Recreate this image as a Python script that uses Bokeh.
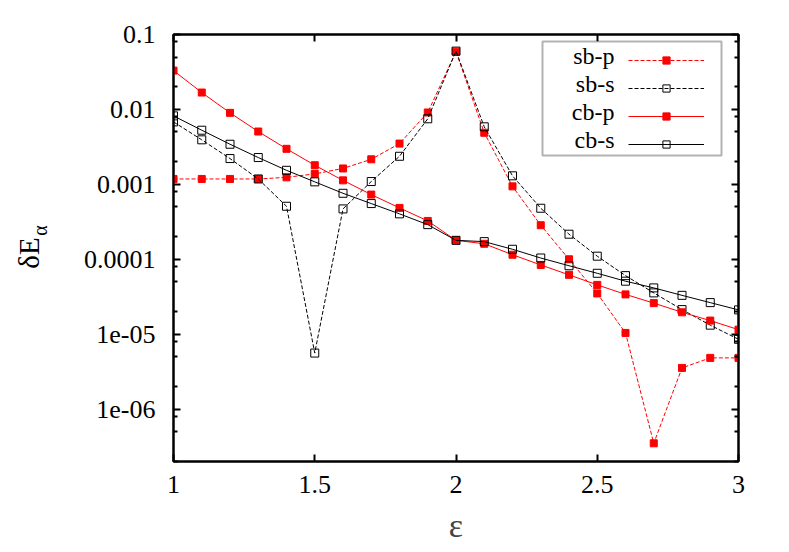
from math import pi
from bokeh.plotting import figure
from bokeh.layouts import row
from bokeh.models import (FixedTicker, LinearAxis, LogAxis, Legend, LegendItem,
                          Label, BoxAnnotation, Range1d)
from bokeh.embed import file_html
from bokeh.resources import INLINE

eps = [1.0, 1.1, 1.2, 1.3, 1.4, 1.5, 1.6, 1.7, 1.8, 1.9, 2.0,
       2.1, 2.2, 2.3, 2.4, 2.5, 2.6, 2.7, 2.8, 2.9, 3.0]

sb_p = [0.00118, 0.00118, 0.00118, 0.00118, 0.00124, 0.00138, 0.00163, 0.00216,
        0.0035, 0.0091, 0.059, 0.00488, 0.00094, 0.000285, 0.0001, 3.5e-5,
        1.04e-5, 3.5e-7, 3.55e-6, 4.83e-6, 4.83e-6]
sb_s = [0.00682, 0.00393, 0.00221, 0.00118, 0.00051, 5.6e-6, 0.00047, 0.00109,
        0.00237, 0.0075, 0.06, 0.00586, 0.0013, 0.00048, 0.000216, 0.00011,
        6.05e-5, 3.56e-5, 2.13e-5, 1.32e-5, 8.55e-6]
cb_p = [0.033, 0.0168, 0.009, 0.00507, 0.00298, 0.0018, 0.00113, 0.00073,
        0.000485, 0.000325, 0.000179, 0.000161, 0.000115, 8.4e-5, 6.2e-5,
        4.55e-5, 3.4e-5, 2.6e-5, 1.96e-5, 1.52e-5, 1.15e-5]
cb_s = [0.0082, 0.00528, 0.00343, 0.00228, 0.00154, 0.00108, 0.00076, 0.000554,
        0.000404, 0.00029, 0.000179, 0.000172, 0.000136, 0.000104, 8.2e-5,
        6.5e-5, 5.1e-5, 4.15e-5, 3.3e-5, 2.64e-5, 2.11e-5]

series_labels = ["sb-p", "sb-s", "cb-p", "cb-s"]

x_ticks = [1, 1.5, 2, 2.5, 3]
x_tick_labels = ["1", "1.5", "2", "2.5", "3"]
y_ticks = [1e-6, 1e-5, 1e-4, 1e-3, 1e-2, 1e-1]
y_tick_labels = ["1e-06", "1e-05", "0.0001", "0.001", "0.01", "0.1"]
y_minor = [m * 10.0 ** e for e in range(-7, -1) for m in (2, 5, 8)]

FONT = "Liberation Serif"
W, H = 789, 552
LEFT_W = 50
FR_TOP, FR_BOTTOM = 34, 461

p = figure(width=W - LEFT_W, height=H, x_range=Range1d(1, 3), y_range=Range1d(2e-7, 0.1),
           y_axis_type="log", output_backend="svg", toolbar_location=None,
           min_border_left=173 - LEFT_W, min_border_right=51, min_border_top=FR_TOP,
           min_border_bottom=H - FR_BOTTOM)
p.xgrid.visible = False
p.ygrid.visible = False
p.outline_line_color = "black"
p.outline_line_width = 2
p.background_fill_color = "white"
p.border_fill_color = "white"


def style(ax):
    ax.axis_line_width = 2
    ax.axis_line_color = "black"
    ax.major_tick_in = 7
    ax.major_tick_out = 0
    ax.minor_tick_in = 4
    ax.minor_tick_out = 0
    ax.major_tick_line_width = 2
    ax.minor_tick_line_width = 2
    ax.major_label_text_font = FONT
    ax.major_label_text_font_size = "26px"
    ax.major_label_text_color = "black"


xax = p.xaxis[0]
xax.ticker = FixedTicker(ticks=x_ticks)
xax.major_label_overrides = dict(zip(x_ticks, x_tick_labels))
style(xax)
xax.major_label_standoff = 14
xax.axis_label = "ε"
xax.axis_label_text_font = FONT
xax.axis_label_text_font_style = "normal"
xax.axis_label_text_font_size = "34px"
xax.axis_label_standoff = 11

yax = p.yaxis[0]
yax.ticker = FixedTicker(ticks=y_ticks, minor_ticks=y_minor)
yax.major_label_overrides = dict(zip(y_ticks, y_tick_labels))
style(yax)
yax.major_label_standoff = 18

top = LinearAxis(ticker=FixedTicker(ticks=x_ticks))
style(top)
top.major_label_text_font_size = "6px"
top.major_label_standoff = 0
top.major_label_overrides = {t: " " for t in x_ticks}
p.add_layout(top, "above")

right = LogAxis(ticker=FixedTicker(ticks=y_ticks, minor_ticks=y_minor))
style(right)
right.major_label_text_font_size = "6px"
right.major_label_standoff = 0
right.major_label_overrides = {t: " " for t in y_ticks}
p.add_layout(right, "right")

RED = "#ff0000"
DASH = "4 2"

l1 = p.line(eps, sb_p, line_color=RED, line_width=1, line_dash=DASH)
m1 = p.scatter(eps, sb_p, marker="square", size=7, fill_color=RED, line_color=RED)
l2 = p.line(eps, sb_s, line_color="black", line_width=1, line_dash=DASH)
m2 = p.scatter(eps, sb_s, marker="square", size=8, fill_color=None, line_color="black", line_width=1)
l3 = p.line(eps, cb_p, line_color=RED, line_width=1)
m3 = p.scatter(eps, cb_p, marker="square", size=7, fill_color=RED, line_color=RED)
l4 = p.line(eps, cb_s, line_color="black", line_width=1)
m4 = p.scatter(eps, cb_s, marker="square", size=8, fill_color=None, line_color="black", line_width=1)

# legend box and labels (labels sit left of the samples, as in the reference)
p.add_layout(BoxAnnotation(left=369, right=548, bottom=306, top=420,
                           left_units="screen", right_units="screen",
                           bottom_units="screen", top_units="screen",
                           fill_color="white", fill_alpha=1.0,
                           line_color="black", line_width=2, level="annotation"))

for i, lab in enumerate(series_labels):
    p.add_layout(Label(x=441, y=406 - 28.1 * i, x_units="screen", y_units="screen",
                       text=lab, text_align="right", text_baseline="middle",
                       text_font=FONT, text_font_size="24px", text_color="black"))

legend = Legend(items=[LegendItem(label=" ", renderers=[l1, m1]),
                       LegendItem(label=" ", renderers=[l2, m2]),
                       LegendItem(label=" ", renderers=[l3, m3]),
                       LegendItem(label=" ", renderers=[l4, m4])],
                location=(455, 303), orientation="vertical",
                glyph_width=76, glyph_height=18, label_height=28, spacing=0,
                padding=0, margin=0, label_standoff=0,
                label_text_font_size="8px",
                border_line_alpha=0, background_fill_alpha=0)
p.add_layout(legend, "center")

# narrow strip on the left carrying the y-axis title (δE with subscript α);
# its frame is aligned with the main frame, so its range is set in page pixels
fl = figure(width=LEFT_W, height=H, x_range=Range1d(0, LEFT_W),
            y_range=Range1d(H - FR_BOTTOM, H - FR_TOP),
            x_axis_type=None, y_axis_type=None, output_backend="svg",
            toolbar_location=None, min_border=0, title=None)
fl.outline_line_color = None
fl.background_fill_color = "white"
fl.border_fill_color = "white"
fl.xgrid.visible = False
fl.ygrid.visible = False
fl.add_layout(Label(x=28, y=H - 252.5, text="δE",
                    angle=pi / 2, text_align="center", text_baseline="alphabetic",
                    text_font=FONT, text_font_size="29px", text_color="black"))
fl.add_layout(Label(x=39, y=H - 230, text="α",
                    angle=pi / 2, text_align="center", text_baseline="alphabetic",
                    text_font=FONT, text_font_size="20px", text_color="black"))

layout = row(fl, p, spacing=0)
open("out.html", "w").write(file_html(layout, INLINE))
